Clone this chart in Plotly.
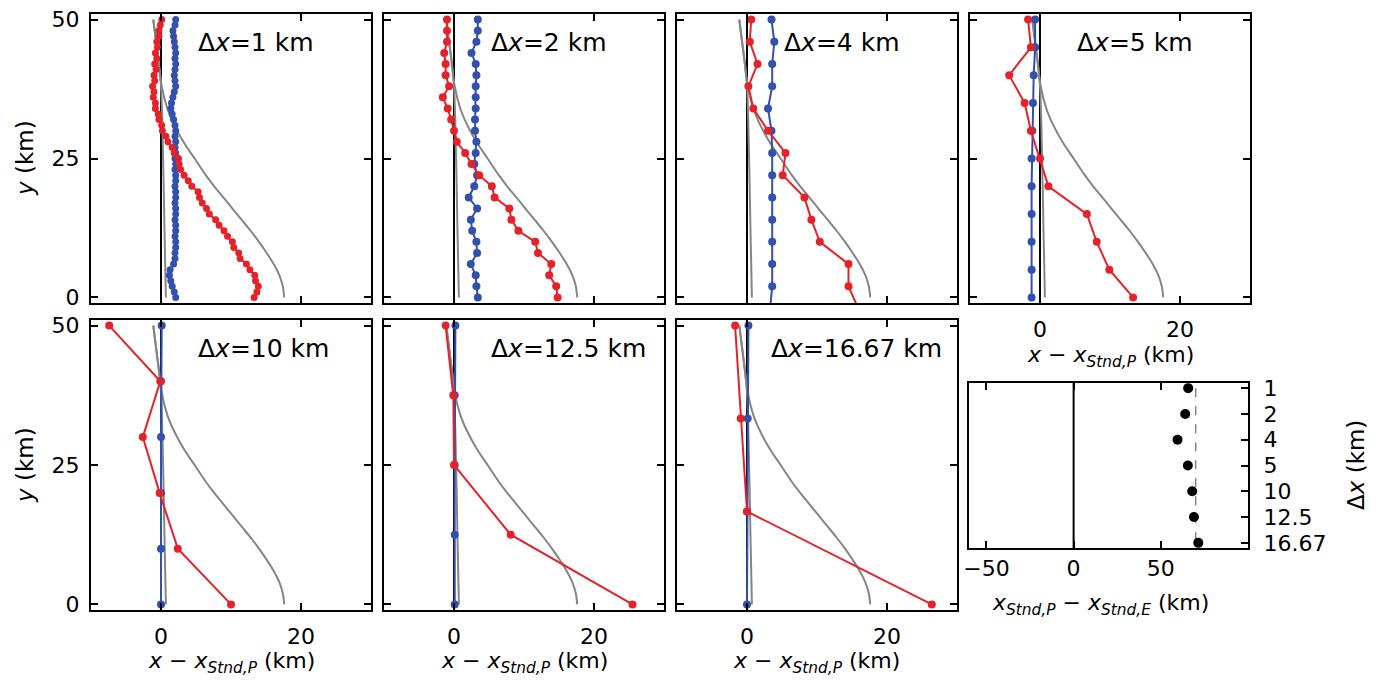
import plotly.graph_objects as go

# page has an 8 px body margin; figure is sized to fit inside the 1378x686 window
OFF = 8
W, H = 1362, 670

# ---------------- data ----------------
dx_labels = ["1", "2", "4", "5", "10", "12.5", "16.67"]

y_dx1 = [50, 49, 48, 47, 46, 45, 44, 43, 42, 41, 40, 39, 38, 37, 36, 35, 34, 33, 32, 31,
         30, 29, 28, 27, 26, 25, 24, 23, 22, 21, 20, 19, 18, 17, 16, 15, 14, 13, 12, 11,
         10, 9, 8, 7, 6, 5, 4, 3, 2, 1, 0]
red_dx1 = [0.1, -0.1, -0.3, -0.3, -0.6, -0.5, -0.8, -0.6, -0.9, -0.7, -1.0, -0.9, -1.2, -1.0,
           -1.1, -0.8, -0.8, -0.4, -0.3, 0.1, 0.2, 0.7, 1.0, 1.6, 1.9, 2.5, 2.6, 2.8, 3.3,
           3.9, 4.4, 5.3, 5.5, 5.9, 6.5, 6.9, 7.8, 8.3, 9.0, 9.5, 10.2, 10.4, 11.1, 11.3,
           12.2, 12.7, 13.4, 13.5, 13.9, 13.7, 13.3]
blue_dx1 = [2.1, 2.0, 1.7, 1.8, 1.9, 2.0, 2.1, 2.0, 2.1, 2.0, 1.9, 2.0, 2.1, 1.9, 1.7, 1.5,
            1.4, 1.6, 1.8, 2.0, 2.1, 2.0, 2.1, 2.0, 2.1, 2.0, 2.1, 2.0, 2.1, 2.1, 2.0, 2.1,
            2.1, 2.0, 2.1, 2.1, 2.0, 2.1, 2.1, 2.0, 2.1, 2.1, 2.0, 2.0, 1.8, 1.3, 1.2, 1.4,
            1.6, 1.9, 2.1]

y_dx2 = [50, 48, 46, 44, 42, 40, 38, 36, 34, 32, 30, 28, 26, 24, 22, 20, 18, 16, 14, 12,
         10, 8, 6, 4, 2, 0]
red_dx2 = [-1.0, -1.0, -1.0, -1.4, -1.2, -1.2, -0.7, -1.6, -0.9, -0.4, 0.0, 0.4, 1.6, 2.5,
           3.6, 5.4, 5.8, 7.9, 8.2, 9.2, 11.6, 12.0, 13.9, 13.6, 14.6, 14.8]
blue_dx2 = [3.4, 3.4, 3.2, 2.5, 3.1, 3.2, 3.1, 3.1, 3.1, 3.0, 3.0, 3.2, 3.1, 2.9, 3.3, 2.9,
            2.1, 3.3, 2.4, 2.6, 3.2, 3.3, 2.4, 3.1, 3.2, 3.4]

y_dx4 = [50, 46, 42, 38, 34, 30, 26, 22, 18, 14, 10, 6, 2, -2]
red_dx4 = [0.6, 0.4, 1.5, 0.2, 0.9, 3.0, 5.5, 5.1, 8.2, 9.2, 10.4, 14.5, 14.5, 15.9]
blue_dx4 = [3.5, 3.9, 3.6, 3.6, 3.0, 3.5, 3.6, 3.6, 3.6, 3.6, 3.6, 3.6, 3.6, 3.3]

y_dx5 = [50, 45, 40, 35, 30, 25, 20, 15, 10, 5, 0]
red_dx5 = [-1.7, -1.3, -4.4, -2.2, -1.3, 0.0, 1.2, 6.7, 8.1, 9.9, 13.3]
blue_dx5 = [-0.7, -0.7, -0.9, -1.0, -1.1, -1.2, -1.2, -1.2, -1.2, -1.2, -1.2]

y_dx10 = [50, 40, 30, 20, 10, 0]
red_dx10 = [-7.4, -0.1, -2.6, -0.2, 2.4, 10.0]
blue_dx10 = [0.1, 0.0, 0.0, 0.0, 0.0, 0.0]

y_dx12 = [50, 37.5, 25, 12.5, 0]
red_dx12 = [-1.2, -0.1, 0.0, 8.1, 25.5]
blue_dx12 = [0.2, 0.1, 0.1, 0.1, 0.1]

y_dx16 = [50, 33.33, 16.67, 0]
red_dx16 = [-1.7, -0.9, 0.0, 26.4]
blue_dx16 = [0.2, 0.1, 0.0, 0.0]

# reference (gray) profiles, same in every panel
gray_curve_y = [50, 46, 42, 38, 34, 31, 28, 25, 22, 20, 18, 16, 14, 12, 10, 8, 6, 4, 2, 0]
gray_curve_x = [-1.1, -0.7, -0.3, 0.1, 0.9, 1.9, 3.2, 4.8, 6.4, 7.6, 8.9, 10.2, 11.5,
                12.8, 14.0, 15.1, 16.1, 16.9, 17.4, 17.6]
gray_line_y = [50, 46, 42, 38, 25, 12, 0]
gray_line_x = [-1.1, -0.7, -0.3, 0.0, 0.3, 0.5, 0.7]

# offsets (bottom-right panel)
offset_vals = [65.7, 64.0, 59.6, 65.5, 68.0, 69.0, 71.5]
offset_ref = 70

panels = [
    ("1", y_dx1, red_dx1, blue_dx1),
    ("2", y_dx2, red_dx2, blue_dx2),
    ("4", y_dx4, red_dx4, blue_dx4),
    ("5", y_dx5, red_dx5, blue_dx5),
    ("10", y_dx10, red_dx10, blue_dx10),
    ("12.5", y_dx12, red_dx12, blue_dx12),
    ("16.67", y_dx16, red_dx16, blue_dx16),
]
label_x = [5, 5, 5, 5, 5, 5, 3.2]

# ---------------- layout geometry (window pixels) ----------------
cols_px = [(91, 371), (384, 664), (677, 957), (970, 1250)]
rows_px = [(14, 303), (320, 610)]
pos = [(0, 0), (0, 1), (0, 2), (0, 3), (1, 0), (1, 1), (1, 2)]

def px(p):
    return (p - OFF) / W

def py(p):
    return 1 - (p - OFF) / H

def xd(a, b):
    return [px(a), px(b)]

def yd(top, bot):
    return [py(bot), py(top)]

RED = "#e4222a"
BLUE = "#3450ad"
GRAY = "#858585"
FONT = "DejaVu Sans"
TF = 22

fig = go.Figure()
layout = dict(
    width=W, height=H, margin=dict(l=0, r=0, t=0, b=0, autoexpand=False),
    paper_bgcolor="white", plot_bgcolor="white", showlegend=False,
    font=dict(family=FONT, size=TF, color="black"),
)
annotations = []
shapes = []

for i, (lab, yv, rv, bv) in enumerate(panels):
    n = i + 1
    r, c = pos[i]
    xa = "xaxis" if n == 1 else "xaxis%d" % n
    ya = "yaxis" if n == 1 else "yaxis%d" % n
    xr = "x" if n == 1 else "x%d" % n
    yr = "y" if n == 1 else "y%d" % n
    show_xlab = (r == 1) or (c == 3)
    show_ylab = (c == 0)
    layout[xa] = dict(
        domain=xd(*cols_px[c]), anchor=yr, range=[-10, 30], tickvals=[0, 20],
        ticks="inside", ticklen=7, tickwidth=1.5, tickcolor="black",
        showline=True, linecolor="black", linewidth=2, mirror="allticks",
        showgrid=False, zeroline=False, showticklabels=show_xlab, automargin=False,
        ticklabelstandoff=6, ticklabeloverflow="allow", tickfont=dict(size=TF, family=FONT),
    )
    layout[ya] = dict(
        domain=yd(*rows_px[r]), anchor=xr, range=[-1, 51], tickvals=[0, 25, 50],
        ticks="inside", ticklen=7, tickwidth=1.5, tickcolor="black",
        showline=True, linecolor="black", linewidth=2, mirror="allticks",
        showgrid=False, zeroline=False, showticklabels=show_ylab, automargin=False,
        ticklabelstandoff=5, ticklabeloverflow="allow", tickfont=dict(size=TF, family=FONT),
    )
    # x = 0 reference
    shapes.append(dict(type="line", xref=xr, yref=yr + " domain", x0=0, x1=0, y0=0, y1=1,
                       line=dict(color="black", width=2), layer="below"))
    msize = 7 if n == 1 else 8
    fig.add_trace(go.Scatter(x=gray_line_x, y=gray_line_y, mode="lines", xaxis=xr, yaxis=yr,
                             line=dict(color=GRAY, width=2, shape="spline"), cliponaxis=True))
    fig.add_trace(go.Scatter(x=gray_curve_x, y=gray_curve_y, mode="lines", xaxis=xr, yaxis=yr,
                             line=dict(color=GRAY, width=2, shape="spline"), cliponaxis=True))
    fig.add_trace(go.Scatter(x=bv, y=yv, mode="lines+markers", xaxis=xr, yaxis=yr,
                             line=dict(color=BLUE, width=2), marker=dict(color=BLUE, size=msize),
                             cliponaxis=True))
    fig.add_trace(go.Scatter(x=rv, y=yv, mode="lines+markers", xaxis=xr, yaxis=yr,
                             line=dict(color=RED, width=2), marker=dict(color=RED, size=msize),
                             cliponaxis=True))
    annotations.append(dict(xref=xr, yref=yr, x=label_x[i], y=45.8, xanchor="left",
                            yanchor="middle", showarrow=False,
                            text="Δ<i>x</i>=" + lab + " km",
                            font=dict(size=25, family=FONT)))

# x titles for profile panels
xtitle = "<i>x</i> − <i>x</i><sub><i>Stnd,P</i></sub> (km)"
for (cx, cy) in [(231, 662), (524, 662), (817, 662), (1110, 356)]:
    annotations.append(dict(xref="paper", yref="paper", x=px(cx), y=py(cy),
                            xanchor="center", yanchor="middle", showarrow=False,
                            text=xtitle, font=dict(size=22, family=FONT)))
# y titles
for cy in [158, 465]:
    annotations.append(dict(xref="paper", yref="paper", x=px(25), y=py(cy),
                            xanchor="center", yanchor="middle", showarrow=False, textangle=-90,
                            text="<i>y</i> (km)", font=dict(size=23, family=FONT)))

# ---------------- bottom-right offset panel ----------------
layout["xaxis8"] = dict(
    domain=xd(969, 1248), anchor="y8", range=[-60, 100], tickvals=[-50, 0, 50],
    ticks="inside", ticklen=7, tickwidth=1.5, tickcolor="black",
    showline=True, linecolor="black", linewidth=2, mirror="allticks",
    showgrid=False, zeroline=False, automargin=False, ticklabeloverflow="allow",
    tickfont=dict(size=TF, family=FONT),
)
layout["yaxis8"] = dict(
    domain=yd(383, 548), anchor="x8", type="category", categoryorder="array",
    categoryarray=dx_labels, tickmode="array", tickvals=dx_labels, ticktext=dx_labels,
    range=[6.2, -0.2], side="right",
    ticks="inside", ticklen=7, tickwidth=1.5, tickcolor="black",
    showline=True, linecolor="black", linewidth=2, mirror=True,
    showgrid=False, zeroline=False, automargin=False, ticklabelstandoff=9,
    ticklabeloverflow="allow", tickfont=dict(size=TF, family=FONT),
)
shapes.append(dict(type="line", xref="x8", yref="y8 domain", x0=0, x1=0, y0=0, y1=1,
                   line=dict(color="black", width=2), layer="below"))
fig.add_trace(go.Scatter(x=[offset_ref] * len(dx_labels), y=dx_labels, mode="lines",
                         xaxis="x8", yaxis="y8",
                         line=dict(color=GRAY, width=1.5, dash="dash")))
fig.add_trace(go.Scatter(x=offset_vals, y=dx_labels, mode="markers", xaxis="x8", yaxis="y8",
                         marker=dict(color="black", size=10)))
annotations.append(dict(xref="paper", yref="paper", x=px(1100), y=py(604),
                        xanchor="center", yanchor="middle", showarrow=False,
                        text="<i>x</i><sub><i>Stnd,P</i></sub> − <i>x</i><sub><i>Stnd,E</i></sub> (km)",
                        font=dict(size=22, family=FONT)))
annotations.append(dict(xref="paper", yref="paper", x=px(1356), y=py(465),
                        xanchor="center", yanchor="middle", showarrow=False, textangle=-90,
                        text="Δ<i>x</i> (km)", font=dict(size=23, family=FONT)))

layout["annotations"] = annotations
layout["shapes"] = shapes
fig.update_layout(**layout)
fig.write_html("out.html")
